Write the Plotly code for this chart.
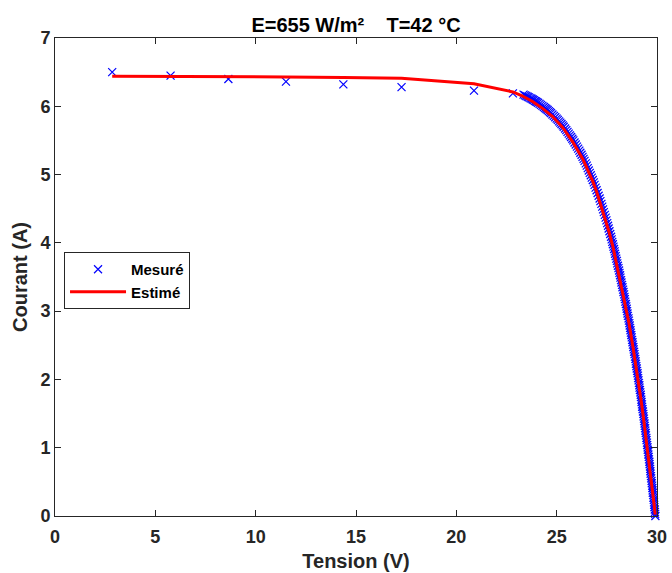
import plotly.graph_objects as go

# Measured points (Tension V, Courant A)
v_mes = [2.85, 5.76, 8.64, 11.51, 14.37, 17.27, 20.88, 22.82,
         23.35, 23.42, 23.49, 23.56, 23.62, 23.69, 23.75, 23.81, 23.86, 23.92,
         23.97, 24.03, 24.08, 24.15, 24.22, 24.29, 24.36, 24.43, 24.49, 24.55,
         24.61, 24.67, 24.72, 24.79, 24.86, 24.93, 25.00, 25.06, 25.12, 25.18,
         25.24, 25.30, 25.35, 25.42, 25.48, 25.54, 25.60, 25.66, 25.72, 25.78,
         25.83, 25.89, 25.95, 26.01, 26.07, 26.13, 26.18, 26.24, 26.29, 26.34,
         26.39, 26.45, 26.50, 26.55, 26.60, 26.65, 26.70, 26.75, 26.80, 26.85,
         26.89, 26.94, 26.99, 27.04, 27.09, 27.14, 27.18, 27.23, 27.27, 27.31,
         27.35, 27.40, 27.44, 27.48, 27.52, 27.56, 27.59, 27.63, 27.67, 27.71,
         27.74, 27.77, 27.80, 27.83, 27.86, 27.89, 27.91, 27.94, 27.97, 28.00,
         28.02, 28.05, 28.08, 28.11, 28.13, 28.16, 28.18, 28.21, 28.23, 28.26,
         28.28, 28.31, 28.33, 28.36, 28.38, 28.40, 28.42, 28.45, 28.47, 28.49,
         28.51, 28.53, 28.55, 28.58, 28.60, 28.62, 28.64, 28.66, 28.68, 28.70,
         28.72, 28.74, 28.76, 28.78, 28.80, 28.82, 28.84, 28.86, 28.88, 28.90,
         28.92, 28.94, 28.95, 28.97, 28.99, 29.01, 29.03, 29.05, 29.06, 29.08,
         29.10, 29.12, 29.13, 29.15, 29.17, 29.19, 29.20, 29.22, 29.23, 29.25,
         29.26, 29.28, 29.30, 29.32, 29.33, 29.35, 29.36, 29.38, 29.39, 29.41,
         29.42, 29.44, 29.45, 29.47, 29.48, 29.50, 29.51, 29.53, 29.54, 29.56,
         29.57, 29.59, 29.60, 29.62, 29.63, 29.65, 29.66, 29.67, 29.68, 29.70,
         29.71, 29.73, 29.74, 29.76, 29.77, 29.78, 29.79, 29.81, 29.82, 29.84,
         29.85, 29.86, 29.87, 29.89, 29.90, 29.91, 29.92]
i_mes = [6.50, 6.45, 6.40, 6.36, 6.32, 6.28, 6.23, 6.19,
         6.17, 6.16, 6.15, 6.14, 6.13, 6.12, 6.11, 6.10, 6.09, 6.08,
         6.07, 6.06, 6.05, 6.035, 6.02, 6.005, 5.99, 5.975, 5.96, 5.945,
         5.93, 5.915, 5.90, 5.88, 5.86, 5.84, 5.82, 5.80, 5.78, 5.76,
         5.74, 5.72, 5.70, 5.675, 5.65, 5.625, 5.60, 5.575, 5.55, 5.525,
         5.50, 5.47, 5.44, 5.41, 5.38, 5.35, 5.32, 5.29, 5.26, 5.23,
         5.20, 5.165, 5.13, 5.095, 5.06, 5.025, 4.99, 4.955, 4.92, 4.885,
         4.85, 4.81, 4.77, 4.73, 4.69, 4.65, 4.61, 4.57, 4.53, 4.49,
         4.45, 4.41, 4.37, 4.33, 4.29, 4.25, 4.21, 4.17, 4.13, 4.09,
         4.05, 4.015, 3.98, 3.945, 3.91, 3.875, 3.84, 3.805, 3.77, 3.735,
         3.70, 3.665, 3.63, 3.595, 3.56, 3.525, 3.49, 3.455, 3.42, 3.385,
         3.35, 3.315, 3.28, 3.245, 3.21, 3.175, 3.14, 3.105, 3.07, 3.035,
         3.00, 2.965, 2.93, 2.895, 2.86, 2.825, 2.79, 2.755, 2.72, 2.685,
         2.65, 2.615, 2.58, 2.545, 2.51, 2.475, 2.44, 2.405, 2.37, 2.335,
         2.30, 2.265, 2.23, 2.195, 2.16, 2.125, 2.09, 2.055, 2.02, 1.985,
         1.95, 1.915, 1.88, 1.845, 1.81, 1.775, 1.74, 1.705, 1.67, 1.635,
         1.60, 1.565, 1.53, 1.495, 1.46, 1.425, 1.39, 1.355, 1.32, 1.285,
         1.25, 1.215, 1.18, 1.145, 1.11, 1.075, 1.04, 1.005, 0.97, 0.935,
         0.90, 0.865, 0.83, 0.795, 0.76, 0.725, 0.69, 0.655, 0.62, 0.585,
         0.55, 0.515, 0.48, 0.445, 0.41, 0.375, 0.34, 0.305, 0.27, 0.235,
         0.20, 0.165, 0.13, 0.095, 0.06, 0.03, 0.00]

# Estimated curve
v_est = [2.85, 5.76, 8.64, 11.51, 14.37, 17.27, 20.88, 22.82, 23.30, 23.80,
         24.30, 24.80, 25.30, 25.80, 26.30, 26.80, 27.00, 27.20, 27.40, 27.60,
         27.80, 28.00, 28.40, 28.60, 28.80, 29.00, 29.20, 29.35, 29.50, 29.70,
         29.85, 29.91]
i_est = [6.44, 6.44, 6.43, 6.43, 6.42, 6.41, 6.33, 6.21, 6.15, 6.07,
         5.97, 5.85, 5.69, 5.48, 5.23, 4.90, 4.74, 4.56, 4.38, 4.17,
         3.95, 3.67, 3.15, 2.83, 2.48, 2.11, 1.71, 1.38, 1.04, 0.55,
         0.18, 0.02]

title_text = "E=655 W/m²    T=42 °C"
x_title = "Tension (V)"
y_title = "Courant (A)"

FONT = "Liberation Sans, Arial, sans-serif"
AX = "#262626"

fig = go.Figure()
fig.add_trace(go.Scatter(
    x=v_mes, y=i_mes, mode="markers", name="Mesuré",
    marker=dict(symbol="x-thin", size=8, line=dict(width=1.2, color="#0000FF"), color="#0000FF"),
    cliponaxis=False,
))
fig.add_trace(go.Scatter(
    x=v_est, y=i_est, mode="lines", name="Estimé",
    line=dict(color="#FF0000", width=3),
    cliponaxis=False,
))

axis_common = dict(
    showline=True, linecolor=AX, linewidth=1, mirror="ticks",
    ticks="inside", ticklen=6, tickwidth=1, tickcolor=AX,
    showgrid=False, zeroline=False, automargin=False,
    tickfont=dict(family=FONT, size=18, color=AX, weight="bold"),
)

fig.update_layout(
    width=672, height=573,
    margin=dict(l=55, r=15, t=38, b=57, autoexpand=False),
    paper_bgcolor="white", plot_bgcolor="white",
    title=dict(text=title_text, x=0.5, xref="paper", y=1 - 25 / 573, yref="container",
               yanchor="middle", xanchor="center", automargin=False,
               font=dict(family=FONT, size=20, color="black", weight="bold")),
    xaxis=dict(range=[0, 30], dtick=5, tick0=0, ticklabelstandoff=4,
               title=dict(text=x_title, standoff=8,
                          font=dict(family=FONT, size=20, color=AX, weight="bold")),
               **axis_common),
    yaxis=dict(range=[0, 7], dtick=1, tick0=0,
               title=dict(text=y_title, standoff=7,
                          font=dict(family=FONT, size=20, color=AX, weight="bold")),
               **axis_common),
    legend=dict(x=0.015, y=0.5523, xanchor="left", yanchor="top",
                bgcolor="white", bordercolor=AX, borderwidth=1,
                itemwidth=56,
                font=dict(family=FONT, size=15, color="black", weight="bold")),
    showlegend=True,
)

fig.write_html("out.html", config={"displayModeBar": False})

# remove the default page margin so the figure sits at the window's corner
with open("out.html", "r", encoding="utf-8") as f:
    html = f.read()
html = html.replace("<head>", "<head><style>html,body{margin:0;padding:0;overflow:hidden;}</style>", 1)
with open("out.html", "w", encoding="utf-8") as f:
    f.write(html)
